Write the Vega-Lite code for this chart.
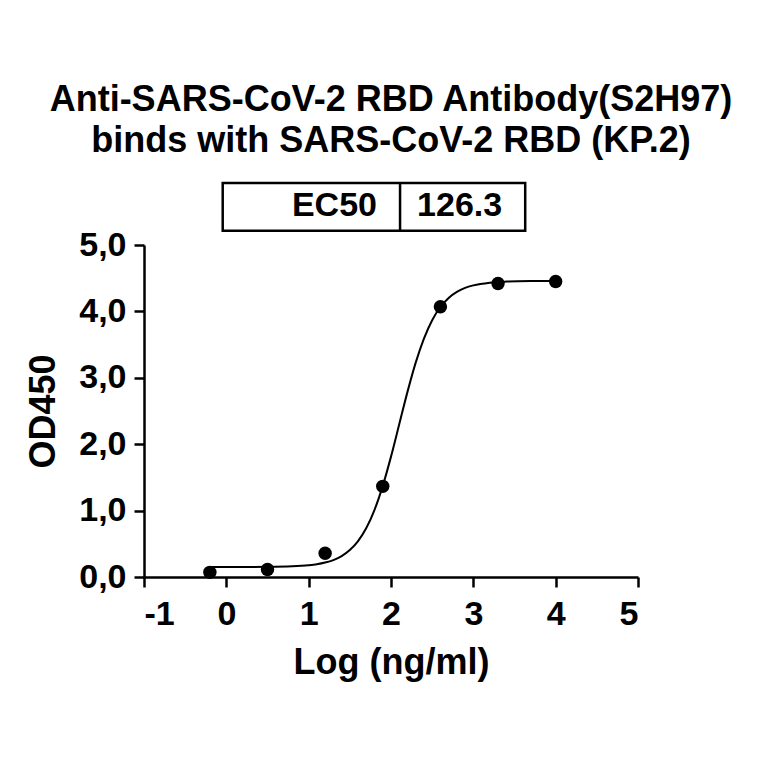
{
  "$schema": "https://vega.github.io/schema/vega-lite/v6.json",
  "autosize": {"type": "none"},
  "width": 494,
  "height": 332,
  "padding": {"left": 144, "top": 245, "right": 126, "bottom": 187},
  "background": "white",
  "title": {
    "text": ["Anti-SARS-CoV-2 RBD Antibody(S2H97)", "binds with SARS-CoV-2 RBD (KP.2)"],
    "anchor": "middle",
    "font": "Liberation Sans",
    "fontSize": 36,
    "fontWeight": "bold",
    "color": "black",
    "lineHeight": 41,
    "offset": 22
  },
  "config": {
    "view": {"stroke": null},
    "axis": {
      "domainColor": "black",
      "domainWidth": 2.5,
      "tickColor": "black",
      "tickWidth": 2.5,
      "tickSize": 10,
      "grid": false,
      "labelFont": "Liberation Sans",
      "labelFontSize": 34,
      "labelFontWeight": "bold",
      "labelColor": "black",
      "titleFont": "Liberation Sans",
      "titleFontSize": 36,
      "titleFontWeight": "bold",
      "titleColor": "black"
    }
  },
  "datasets": {
    "points": [
      {"logconc": -0.2, "od450": 0.07},
      {"logconc": 0.5, "od450": 0.112},
      {"logconc": 1.2, "od450": 0.357},
      {"logconc": 1.9, "od450": 1.365},
      {"logconc": 2.6, "od450": 4.07},
      {"logconc": 3.3, "od450": 4.42},
      {"logconc": 4.0, "od450": 4.45}
    ],
    "curve": [
      {"logconc": -0.2, "od450": 0.150},
      {"logconc": 0.0, "od450": 0.150},
      {"logconc": 0.5, "od450": 0.153},
      {"logconc": 0.8, "od450": 0.161},
      {"logconc": 1.0, "od450": 0.177},
      {"logconc": 1.1, "od450": 0.192},
      {"logconc": 1.2, "od450": 0.217},
      {"logconc": 1.3, "od450": 0.255},
      {"logconc": 1.4, "od450": 0.314},
      {"logconc": 1.5, "od450": 0.405},
      {"logconc": 1.6, "od450": 0.540},
      {"logconc": 1.7, "od450": 0.737},
      {"logconc": 1.8, "od450": 1.012},
      {"logconc": 1.9, "od450": 1.373},
      {"logconc": 2.0, "od450": 1.813},
      {"logconc": 2.1, "od450": 2.300},
      {"logconc": 2.2, "od450": 2.788},
      {"logconc": 2.3, "od450": 3.229},
      {"logconc": 2.4, "od450": 3.591},
      {"logconc": 2.5, "od450": 3.868},
      {"logconc": 2.6, "od450": 4.066},
      {"logconc": 2.7, "od450": 4.203},
      {"logconc": 2.8, "od450": 4.294},
      {"logconc": 2.9, "od450": 4.354},
      {"logconc": 3.0, "od450": 4.392},
      {"logconc": 3.2, "od450": 4.433},
      {"logconc": 3.4, "od450": 4.449},
      {"logconc": 3.7, "od450": 4.457},
      {"logconc": 4.0, "od450": 4.459}
    ],
    "table": [
      {"label": "EC50", "value": "126.3"}
    ]
  },
  "layer": [
    {
      "data": {"name": "curve"},
      "mark": {"type": "line", "color": "black", "strokeWidth": 2, "interpolate": "monotone"},
      "encoding": {
        "x": {
          "field": "logconc", "type": "quantitative",
          "scale": {"domain": [-1, 5], "nice": false, "zero": false},
          "axis": {
            "values": [-1, 0, 1, 2, 3, 4, 5],
            "labelExpr": "'' + datum.value",
            "labelPadding": 10,
            "title": "Log (ng/ml)",
            "titlePadding": 14
          }
        },
        "y": {
          "field": "od450", "type": "quantitative",
          "scale": {"domain": [0, 5], "nice": false, "zero": false},
          "axis": {
            "values": [0, 1, 2, 3, 4, 5],
            "labelExpr": "replace(format(datum.value, '.1f'), '.', ',')",
            "labelPadding": 8,
            "title": "OD450",
            "titlePadding": 16
          }
        }
      }
    },
    {
      "data": {"name": "points"},
      "mark": {"type": "point", "filled": true, "color": "black", "opacity": 1, "size": 180},
      "encoding": {
        "x": {"field": "logconc", "type": "quantitative"},
        "y": {"field": "od450", "type": "quantitative"}
      }
    },
    {
      "data": {"name": "table"},
      "mark": {"type": "rect", "fill": "white", "stroke": "black", "strokeWidth": 2.5, "clip": false},
      "encoding": {
        "x": {"datum": -0.044, "type": "quantitative"},
        "x2": {"datum": 3.63},
        "y": {"datum": 5.215, "type": "quantitative"},
        "y2": {"datum": 5.934}
      }
    },
    {
      "data": {"name": "table"},
      "mark": {"type": "rule", "color": "black", "strokeWidth": 2.5, "clip": false},
      "encoding": {
        "x": {"datum": 2.11, "type": "quantitative"},
        "y": {"datum": 5.215, "type": "quantitative"},
        "y2": {"datum": 5.934}
      }
    },
    {
      "data": {"name": "table"},
      "mark": {"type": "text", "align": "right", "baseline": "middle", "font": "Liberation Sans", "fontSize": 34, "fontWeight": "bold", "color": "black", "clip": false},
      "encoding": {
        "x": {"datum": 1.83, "type": "quantitative"},
        "y": {"datum": 5.58, "type": "quantitative"},
        "text": {"field": "label"}
      }
    },
    {
      "data": {"name": "table"},
      "mark": {"type": "text", "align": "left", "baseline": "middle", "font": "Liberation Sans", "fontSize": 34, "fontWeight": "bold", "color": "black", "clip": false},
      "encoding": {
        "x": {"datum": 2.317, "type": "quantitative"},
        "y": {"datum": 5.58, "type": "quantitative"},
        "text": {"field": "value"}
      }
    }
  ]
}
